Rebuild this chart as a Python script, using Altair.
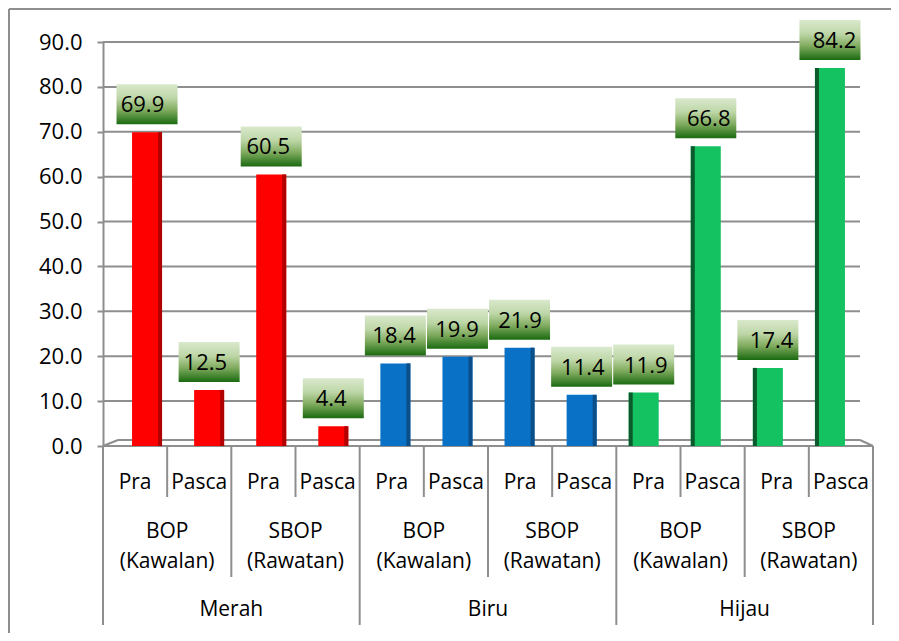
import altair as alt
import pandas as pd

# ---- data ----
groups = ["Merah", "Biru", "Hijau"]
subgroups = ["BOP", "SBOP"]
subgroup_notes = ["(Kawalan)", "(Rawatan)"]
phases = ["Pra", "Pasca"]
values = [69.9, 12.5, 60.5, 4.4,
          18.4, 19.9, 21.9, 11.4,
          11.9, 66.8, 17.4, 84.2]
y_ticks = [0, 10, 20, 30, 40, 50, 60, 70, 80, 90]

face_colors = {"Merah": "#FF0000", "Biru": "#0A72C6", "Hijau": "#15C262"}
side_colors = {"Merah": "#B00000", "Biru": "#0B4F8A", "Hijau": "#0A5A2C"}

FONT = "Open Sans"
GRID = "#8E8E8E"

# ---- tables built from the arrays ----
rows = []
i = 0
for g in groups:
    for s in subgroups:
        for p in phases:
            rows.append({"group": g, "sub": s, "phase": p, "v": values[i],
                         "pos": i + 0.5})
            i += 1
bars = pd.DataFrame(rows)

n_slots = len(values)
per_group = len(subgroups) * len(phases)
sub_rows = []
for gi, g in enumerate(groups):
    for si, s in enumerate(subgroups):
        sub_rows.append({"top": s, "bottom": subgroup_notes[si],
                         "pos": gi * per_group + si * len(phases) + len(phases) / 2})
subs = pd.DataFrame(sub_rows)
grp = pd.DataFrame({"group": groups,
                    "pos": [gi * per_group + per_group / 2 for gi in range(len(groups))]})

sep1 = pd.DataFrame({"pos": [k for k in range(n_slots) if k % 2 == 1]})
sep2 = pd.DataFrame({"pos": [k for k in range(n_slots) if k % 4 == 2]})
sep3 = pd.DataFrame({"pos": [k for k in range(n_slots + 1) if k % 4 == 0]})
ticks_df = pd.DataFrame({"t": y_ticks})

W, H = 770, 404
yscale = alt.Scale(domain=[0, 90], nice=False, zero=True)
front_x = alt.Scale(domain=[0, n_slots], range=[0, W])
back_x = alt.Scale(domain=[0, n_slots], range=[8, 763])

yaxis = alt.Axis(values=y_ticks, format=".1f", labelFont=FONT, labelFontSize=22,
                 labelColor="#000000", tickColor=GRID, tickSize=6, tickWidth=2,
                 domainColor=GRID, domainWidth=2, grid=False, labelPadding=15,
                 title=None)

def yq(field):
    return alt.Y(field, scale=yscale, axis=yaxis, title=None)

# frame (only top and left edges visible)
frame_top = alt.Chart(ticks_df.head(1)).mark_rule(color=GRID, strokeWidth=2).encode(
    x=alt.value(-94), x2=alt.value(W + 30), y=alt.value(-33))
frame_left = alt.Chart(ticks_df.head(1)).mark_rule(color=GRID, strokeWidth=2).encode(
    x=alt.value(-94), y=alt.value(-33), y2=alt.value(H + 200))

# gridlines
grid = alt.Chart(ticks_df[ticks_df.t > 0]).mark_rule(color=GRID, strokeWidth=2).encode(
    y=yq("t:Q"), x=alt.value(0), x2=alt.value(757))
floor_front = alt.Chart(ticks_df.head(1)).mark_rule(color=GRID, strokeWidth=2).encode(
    y=yq("t:Q"), x=alt.value(0), x2=alt.value(W))
floor_back = alt.Chart(ticks_df.head(1)).mark_rule(color=GRID, strokeWidth=2, yOffset=-6).encode(
    y=yq("t:Q"), x=alt.value(15), x2=alt.value(757))
floor_left = alt.Chart(ticks_df.head(1)).mark_rule(color=GRID, strokeWidth=2, y2Offset=-6).encode(
    y=yq("t:Q"), y2=alt.Y2("t:Q"), x=alt.value(0), x2=alt.value(15))
floor_right = alt.Chart(ticks_df.head(1)).mark_rule(color=GRID, strokeWidth=2, yOffset=-6).encode(
    y=yq("t:Q"), y2=alt.Y2("t:Q"), x=alt.value(757), x2=alt.value(W))

# bars
bar_main = alt.Chart(bars).mark_bar(size=30).encode(
    x=alt.X("pos:Q", scale=back_x, axis=None),
    y=yq("v:Q"),
    color=alt.Color("group:N", scale=alt.Scale(domain=groups,
                                               range=[face_colors[g] for g in groups]),
                    legend=None),
)
bar_side_r = alt.Chart(bars).transform_filter(alt.datum.group != "Hijau").mark_bar(
    size=4, xOffset=13).encode(
    x=alt.X("pos:Q", scale=back_x, axis=None), y=yq("v:Q"),
    color=alt.Color("group:N", scale=alt.Scale(domain=groups,
                                               range=[side_colors[g] for g in groups]),
                    legend=None))
bar_side_l = alt.Chart(bars).transform_filter(alt.datum.group == "Hijau").mark_bar(
    size=4, xOffset=-13).encode(
    x=alt.X("pos:Q", scale=back_x, axis=None), y=yq("v:Q"),
    color=alt.Color("group:N", scale=alt.Scale(domain=groups,
                                               range=[side_colors[g] for g in groups]),
                    legend=None))

grad = alt.Gradient(gradient="linear",
                    stops=[alt.GradientStop(color="#DAE9CD", offset=0),
                           alt.GradientStop(color="#BDD6A6", offset=0.35),
                           alt.GradientStop(color="#80AB5F", offset=0.65),
                           alt.GradientStop(color="#1A6A10", offset=1)],
                    x1=0, x2=0, y1=0, y2=1)
label_box = alt.Chart(bars).mark_bar(size=61, fill=grad, yOffset=-48, y2Offset=-8).encode(
    x=alt.X("pos:Q", scale=back_x, axis=None), y=yq("v:Q"), y2=alt.Y2("v:Q"))
label_txt = alt.Chart(bars).mark_text(font=FONT, fontSize=22, color="#000000",
                                      baseline="middle", dy=-27).encode(
    x=alt.X("pos:Q", scale=back_x, axis=None), y=yq("v:Q"),
    text=alt.Text("v:Q", format=".1f"))

# category separators
def seps(df, y2):
    return alt.Chart(df).mark_rule(color=GRID, strokeWidth=2).encode(
        x=alt.X("pos:Q", scale=front_x, axis=None), y=alt.value(H), y2=alt.value(y2))

s1 = seps(sep1, 455)
s2 = seps(sep2, 535)
s3 = seps(sep3, 583)

txt = dict(font=FONT, fontSize=21, color="#000000", baseline="middle", align="center")
phase_t = alt.Chart(bars).mark_text(**txt).encode(
    x=alt.X("pos:Q", scale=front_x, axis=None), y=alt.value(441), text="phase:N")
sub_t1 = alt.Chart(subs).mark_text(**txt).encode(
    x=alt.X("pos:Q", scale=front_x, axis=None), y=alt.value(490), text="top:N")
sub_t2 = alt.Chart(subs).mark_text(**txt).encode(
    x=alt.X("pos:Q", scale=front_x, axis=None), y=alt.value(520), text="bottom:N")
grp_t = alt.Chart(grp).mark_text(**txt).encode(
    x=alt.X("pos:Q", scale=front_x, axis=None), y=alt.value(568), text="group:N")

chart = alt.layer(
    frame_top, frame_left, grid, floor_front, floor_back, floor_left, floor_right,
    bar_main, bar_side_r, bar_side_l, label_box, label_txt,
    s1, s2, s3, phase_t, sub_t1, sub_t2, grp_t,
).resolve_scale(x="independent", color="independent").properties(
    width=W, height=H,
    padding={"left": 95, "top": 34, "right": 18, "bottom": 187},
    autosize=alt.AutoSizeParams(type="none"),
    background="#FFFFFF",
).configure_view(stroke=None)

chart.save("out.html", embed_options={"renderer": "svg", "actions": False})
